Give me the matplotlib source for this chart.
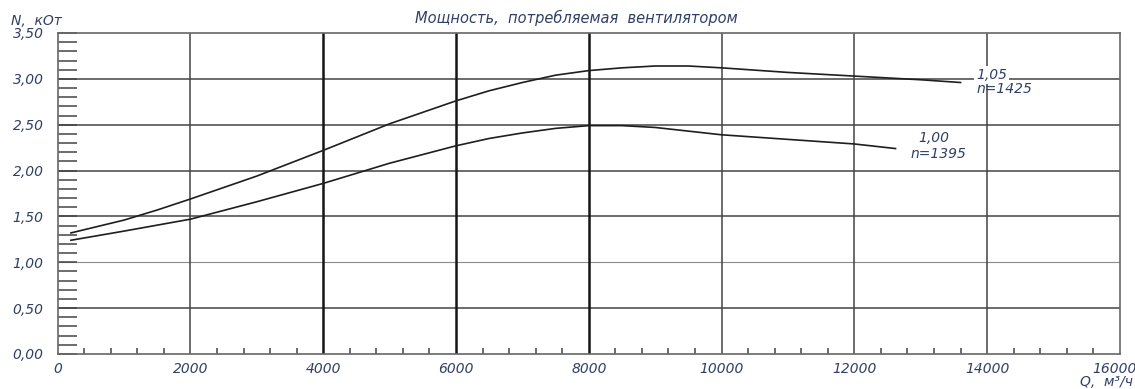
import matplotlib
matplotlib.use("Agg")
import matplotlib.pyplot as plt
from matplotlib.ticker import MultipleLocator, FuncFormatter
from matplotlib.transforms import ScaledTranslation

# Fan power curves: N (kW) vs air flow Q (m³/h)
q_hi = [200, 1000, 1500, 2000, 3000, 4000, 5000, 6000, 6500, 7000, 7500, 8000,
        8500, 9000, 9500, 10000, 11000, 12000, 13000, 13600]
n_hi = [1.32, 1.46, 1.57, 1.69, 1.94, 2.22, 2.51, 2.76, 2.87, 2.96, 3.04, 3.09,
        3.12, 3.14, 3.14, 3.12, 3.07, 3.03, 2.99, 2.96]

q_lo = [200, 1000, 2000, 3000, 4000, 5000, 6000, 6500, 7000, 7500, 8000, 8500,
        9000, 9500, 10000, 11000, 12000, 12620]
n_lo = [1.24, 1.34, 1.47, 1.66, 1.86, 2.08, 2.27, 2.35, 2.41, 2.46, 2.49, 2.49,
        2.47, 2.43, 2.39, 2.34, 2.29, 2.24]

x_ticks = [0, 2000, 4000, 6000, 8000, 10000, 12000, 14000, 16000]
y_ticks = [0.0, 0.5, 1.0, 1.5, 2.0, 2.5, 3.0, 3.5]

txt = "#2f3f66"
font = dict(family="DejaVu Sans", style="oblique", color=txt)

fig = plt.figure(figsize=(11.35, 3.89), dpi=100)
ax = fig.add_axes([0.0508, 0.090, 0.9359, 0.8252])
ax.set_xlim(0, 16000)
ax.set_ylim(0, 3.5)

# grid
for y in y_ticks[1:-1]:
    lw, c = (0.8, "#8a8a8a") if y == 1.0 else (1.1, "#444444")
    ax.axhline(y, color=c, lw=lw, zorder=1)
for x in x_ticks[1:-1]:
    if x in (4000, 6000, 8000):
        ax.axvline(x, color="#151515", lw=1.8, zorder=1)
    else:
        ax.axvline(x, color="#444444", lw=1.1, zorder=1)

for s in ax.spines.values():
    s.set_color("#666666")
    s.set_linewidth(1.2)

ax.plot(q_hi, n_hi, color="#1e1e1e", lw=1.2, zorder=3)
ax.plot(q_lo, n_lo, color="#1e1e1e", lw=1.2, zorder=3)

ax.set_xticks(x_ticks)
ax.set_yticks(y_ticks)
ax.xaxis.set_minor_locator(MultipleLocator(400))
ax.yaxis.set_minor_locator(MultipleLocator(0.1))
ax.yaxis.set_major_formatter(FuncFormatter(lambda v, p: f"{v:.2f}".replace(".", ",")))
ax.tick_params(axis="y", which="both", direction="in", length=14, width=1.1, color="#444444", pad=10)
ax.tick_params(axis="x", which="both", direction="in", length=4, width=1.1, color="#444444", pad=6)
ax.tick_params(axis="x", which="major", length=0)
for lab in ax.get_xticklabels() + ax.get_yticklabels():
    lab.set_fontstyle("oblique")
    lab.set_color(txt)
    lab.set_fontsize(10)

# keep the last x label inside the figure
last = ax.get_xticklabels()[-1]
last.set_horizontalalignment("right")
last.set_transform(last.get_transform() + ScaledTranslation(17 / 100, 0, fig.dpi_scale_trans))

fig.text(0.508, 0.954, "Мощность,  потребляемая  вентилятором", ha="center", va="center", fontsize=10.5, **font)
fig.text(0.010, 0.946, "N,  кОт", ha="left", va="center", fontsize=10, **font)
fig.text(0.998, 0.018, "Q,  м³/ч", ha="right", va="center", fontsize=10, **font)

bbox = dict(facecolor="white", edgecolor="none", pad=1.5)
ax.text(14066, 3.04, "1,05", ha="center", va="center", fontsize=10, bbox=bbox, zorder=4, **font)
ax.text(14266, 2.89, "n=1425", ha="center", va="center", fontsize=10, zorder=4, **font)
ax.text(13192, 2.35, "1,00", ha="center", va="center", fontsize=10, zorder=4, **font)
ax.text(13267, 2.18, "n=1395", ha="center", va="center", fontsize=10, zorder=4, **font)

fig.savefig("out.png", dpi=100)
